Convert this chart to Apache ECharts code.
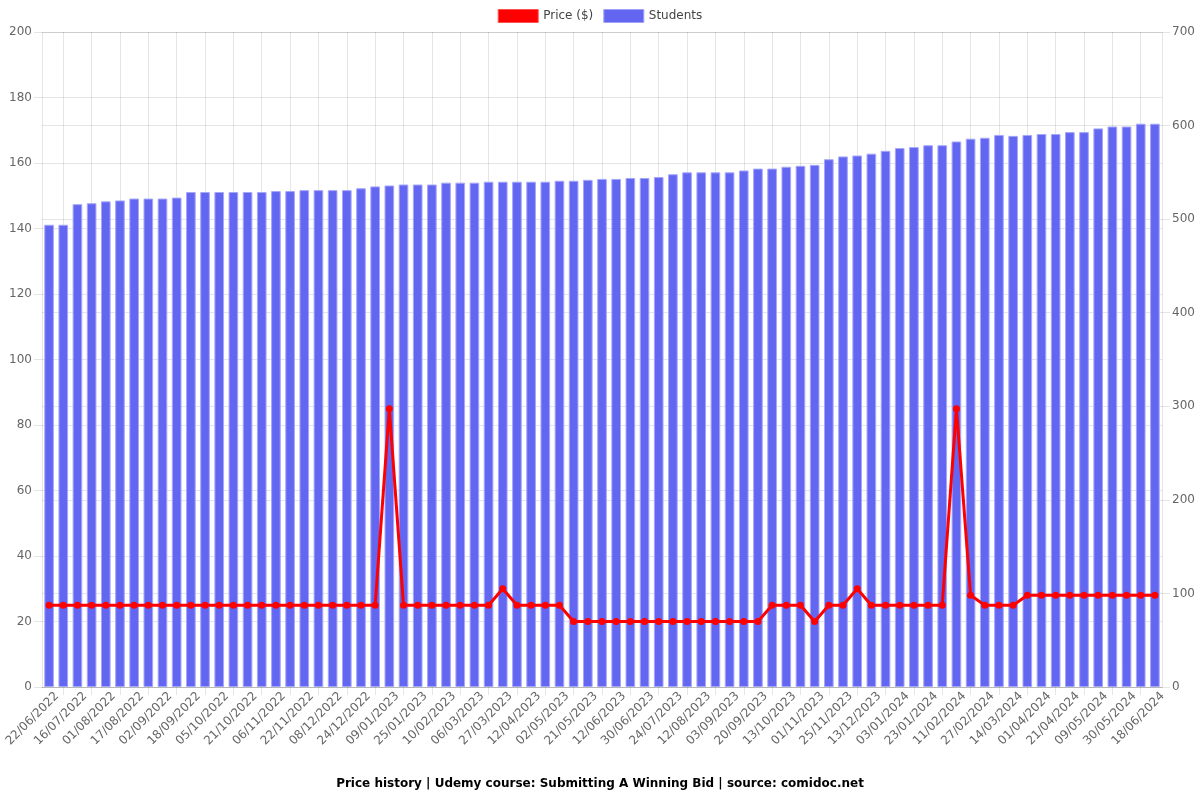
<!DOCTYPE html>
<html>
<head>
<meta charset="utf-8">
<script src="https://cdn.jsdelivr.net/npm/echarts@6/dist/echarts.min.js"></script>
<style>html,body{margin:0;padding:0;background:#fff;}#c{width:1200px;height:800px;}</style>
</head>
<body>
<div id="c"></div>
<script>
const categories = [
  "22/06/2022","04/07/2022","16/07/2022","24/07/2022","01/08/2022","09/08/2022","17/08/2022","25/08/2022",
  "02/09/2022","10/09/2022","18/09/2022","26/09/2022","05/10/2022","13/10/2022","21/10/2022","29/10/2022",
  "06/11/2022","14/11/2022","22/11/2022","30/11/2022","08/12/2022","16/12/2022","24/12/2022","01/01/2023",
  "09/01/2023","17/01/2023","25/01/2023","02/02/2023","10/02/2023","22/02/2023","06/03/2023","18/03/2023",
  "27/03/2023","04/04/2023","12/04/2023","22/04/2023","02/05/2023","12/05/2023","21/05/2023","01/06/2023",
  "12/06/2023","21/06/2023","30/06/2023","12/07/2023","24/07/2023","03/08/2023","12/08/2023","23/08/2023",
  "03/09/2023","11/09/2023","20/09/2023","01/10/2023","13/10/2023","22/10/2023","01/11/2023","13/11/2023",
  "25/11/2023","04/12/2023","13/12/2023","23/12/2023","03/01/2024","13/01/2024","23/01/2024","01/02/2024",
  "11/02/2024","19/02/2024","27/02/2024","06/03/2024","14/03/2024","23/03/2024","01/04/2024","11/04/2024",
  "21/04/2024","30/04/2024","09/05/2024","19/05/2024","30/05/2024","08/06/2024","18/06/2024"
];
const price = [
  24.99,24.99,24.99,24.99,24.99,24.99,24.99,24.99,24.99,24.99,24.99,24.99,24.99,24.99,24.99,24.99,
  24.99,24.99,24.99,24.99,24.99,24.99,24.99,24.99,84.99,24.99,24.99,24.99,24.99,24.99,24.99,24.99,
  29.99,24.99,24.99,24.99,24.99,19.99,19.99,19.99,19.99,19.99,19.99,19.99,19.99,19.99,19.99,19.99,
  19.99,19.99,19.99,24.99,24.99,24.99,19.99,24.99,24.99,29.99,24.99,24.99,24.99,24.99,24.99,24.99,
  84.99,27.99,24.99,24.99,24.99,27.99,27.99,27.99,27.99,27.99,27.99,27.99,27.99,27.99,27.99
];
const students = [
  494,494,516,517,519,520,522,522,522,523,529,529,529,529,529,529,
  530,530,531,531,531,531,533,535,536,537,537,537,539,539,539,540,
  540,540,540,540,541,541,542,543,543,544,544,545,548,550,550,550,
  550,552,554,554,556,557,558,564,567,568,570,573,576,577,579,579,
  583,586,587,590,589,590,591,591,593,593,597,599,599,602,602
];
const titleText = "Price history | Udemy course: Submitting A Winning Bid | source: comidoc.net";

const gridColor = "rgba(0,0,0,0.1)";
const font = "DejaVu Sans";
const chart = echarts.init(document.getElementById("c"), null, {renderer: "canvas"});
chart.setOption({
  animation: false,
  backgroundColor: "#fff",
  textStyle: {fontFamily: font},
  title: {
    text: titleText, left: "center", top: 773,
    textStyle: {fontFamily: font, fontSize: 12, fontWeight: "bold", color: "#000"}
  },
  legend: {
    top: 4, left: "center", itemWidth: 40, itemHeight: 13, itemGap: 10,
    textStyle: {fontFamily: font, fontSize: 12, color: "#444"},
    data: [
      {name: "Price ($)", icon: "rect", itemStyle: {color: "#ff0000", borderColor: "rgba(255,80,80,1)", borderWidth: 1}},
      {name: "Students", icon: "rect", itemStyle: {color: "#6366f1", borderColor: "rgba(160,162,250,1)", borderWidth: 1}}
    ]
  },
  grid: {left: 42, right: 38, top: 32, bottom: 113, containLabel: false, outerBoundsMode: "none"},
  xAxis: {
    type: "category", data: categories, boundaryGap: true,
    axisLine: {show: true, lineStyle: {color: gridColor}},
    axisTick: {show: true, alignWithLabel: true, length: 8, interval: function (i) { return i % 2 === 1; }, lineStyle: {color: gridColor}},
    splitLine: {show: true, alignWithLabel: true, interval: function (i) { return i % 2 === 1; }, lineStyle: {color: gridColor}},
    axisLabel: {interval: function (i) { return i % 2 === 0; }, rotate: 45, margin: 15, padding: [13, -11, 0, 0], fontFamily: font, fontSize: 12, color: "#666"}
  },
  yAxis: [
    {
      type: "value", min: 0, max: 200, interval: 20, position: "left",
      axisLine: {show: true, lineStyle: {color: gridColor}},
      axisTick: {show: true, length: 8, lineStyle: {color: gridColor}},
      splitLine: {show: true, lineStyle: {color: gridColor}},
      axisLabel: {margin: 10, fontFamily: font, fontSize: 12, color: "#666"}
    },
    {
      type: "value", min: 0, max: 700, interval: 100, position: "right",
      axisLine: {show: true, lineStyle: {color: gridColor}},
      axisTick: {show: true, length: 8, lineStyle: {color: gridColor}},
      splitLine: {show: true, lineStyle: {color: gridColor}},
      axisLabel: {margin: 10, fontFamily: font, fontSize: 12, color: "#666"}
    }
  ],
  series: [
    {
      name: "Price ($)", type: "line", yAxisIndex: 0, data: price, z: 5,
      symbol: "circle", symbolSize: 7, showSymbol: true,
      lineStyle: {color: "#ff0000", width: 3},
      itemStyle: {color: "#ff0000"}
    },
    {
      name: "Students", type: "bar", yAxisIndex: 1, data: students, z: 2,
      barCategoryGap: "32%",
      itemStyle: {color: "#6366f1", borderColor: "rgba(165,167,250,1)", borderWidth: 1}
    }
  ]
});
</script>
</body>
</html>
